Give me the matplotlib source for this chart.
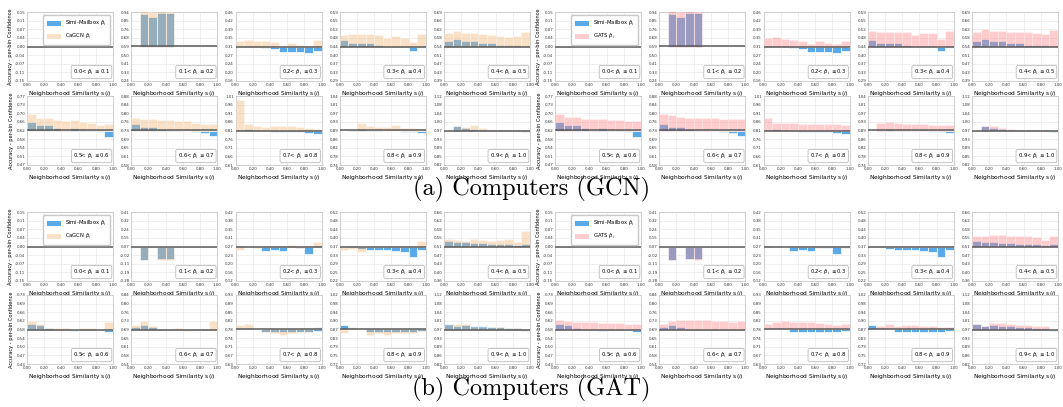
import numpy as np
import matplotlib
matplotlib.use("Agg")
import matplotlib.pyplot as plt
from matplotlib.patches import Patch

nan = np.nan

# ---------------- data ----------------
bin_lo = [0.0, 0.1, 0.2, 0.3, 0.4, 0.5, 0.6, 0.7, 0.8, 0.9]
conf_ranges = ["0.0", "0.1", "0.2", "0.3", "0.4", "0.5", "0.6", "0.7", "0.8", "0.9", "1.0"]
x_ticks = [0.0, 0.2, 0.4, 0.6, 0.8, 1.0]

# (a) Computers (GCN)
a_center = [0.00, 0.59, 0.311, 0.441, 0.543, 0.62, 0.727, 0.81, 0.893, 0.967]
a_half = [0.15, 0.35, 0.15, 0.15, 0.15, 0.15, 0.15, 0.20, 0.15, 0.15]
a_simi = [
    [nan] * 10,
    [nan, 0.333, 0.300, 0.343, 0.340, nan, nan, nan, nan, nan],
    [0.004, 0.004, 0.001, -0.006, -0.009, -0.026, -0.022, -0.025, -0.029, -0.020],
    [0.029, 0.017, 0.016, 0.015, 0.006, -0.004, 0.001, 0.001, -0.020, 0.001],
    [0.026, 0.032, 0.025, 0.022, 0.015, 0.016, 0.005, 0.005, 0.006, 0.001],
    [0.037, 0.024, 0.024, 0.013, 0.002, 0.009, 0.001, 0.001, -0.007, -0.030],
    [0.030, 0.014, 0.014, 0.006, 0.001, 0.001, -0.004, -0.007, -0.010, -0.024],
    [0.002, 0.008, 0.004, 0.001, -0.006, -0.006, -0.008, -0.010, -0.013, -0.021],
    [nan, 0.003, 0.007, 0.003, 0.001, -0.004, -0.004, -0.006, -0.007, -0.013],
    [nan, 0.020, 0.012, 0.007, 0.004, 0.002, 0.001, 0.001, 0.001, -0.005],
]
a_cagcn = [
    [nan] * 10,
    [nan, 0.357, 0.350, 0.357, 0.350, nan, nan, nan, nan, nan],
    [0.025, 0.029, 0.025, 0.025, 0.019, -0.003, 0.017, 0.007, 0.004, 0.029],
    [0.051, 0.054, 0.055, 0.055, 0.052, 0.038, 0.047, 0.038, 0.020, 0.055],
    [0.058, 0.068, 0.060, 0.057, 0.054, 0.048, 0.044, 0.041, 0.045, 0.062],
    [0.070, 0.053, 0.053, 0.047, 0.041, 0.044, 0.036, 0.034, 0.024, 0.027],
    [0.056, 0.051, 0.051, 0.044, 0.044, 0.041, 0.041, 0.033, 0.027, 0.027],
    [0.175, 0.036, 0.025, 0.021, 0.027, 0.025, 0.027, 0.021, 0.017, 0.008],
    [nan, 0.003, 0.034, 0.019, 0.016, 0.017, 0.024, 0.011, 0.009, 0.007],
    [nan, 0.020, 0.017, 0.023, 0.009, 0.004, 0.004, 0.001, 0.001, 0.001],
]
a_gats = [
    [nan] * 10,
    [nan, 0.357, 0.350, 0.357, 0.350, nan, nan, nan, nan, nan],
    [0.036, 0.041, 0.033, 0.028, 0.025, 0.013, 0.023, 0.017, 0.010, 0.023],
    [0.068, 0.064, 0.064, 0.064, 0.064, 0.051, 0.058, 0.058, 0.033, 0.067],
    [0.063, 0.074, 0.068, 0.067, 0.064, 0.063, 0.063, 0.058, 0.054, 0.071],
    [0.070, 0.059, 0.059, 0.050, 0.050, 0.050, 0.047, 0.046, 0.041, 0.041],
    [0.073, 0.066, 0.059, 0.054, 0.054, 0.054, 0.054, 0.050, 0.050, 0.050],
    [0.070, 0.044, 0.042, 0.042, 0.036, 0.036, 0.036, 0.036, 0.035, 0.032],
    [nan, 0.033, 0.036, 0.033, 0.030, 0.027, 0.027, 0.026, 0.023, 0.023],
    [nan, 0.021, 0.019, 0.011, 0.007, 0.004, 0.002, 0.001, 0.001, -0.004],
]

# (b) Computers (GAT)
b_center = [0.00, 0.065, 0.27, 0.367, 0.51, 0.58, 0.69, 0.78, 0.866, 0.97]
b_half = [0.15, 0.345, 0.15, 0.15, 0.15, 0.15, 0.15, 0.15, 0.15, 0.15]
b_simi = [
    [nan] * 10,
    [nan, -0.130, nan, -0.125, -0.125, nan, nan, nan, nan, nan],
    [0.003, -0.004, -0.002, -0.019, -0.015, -0.019, 0.001, -0.007, -0.033, 0.001],
    [-0.004, 0.001, -0.012, -0.017, -0.016, -0.015, -0.019, -0.024, -0.046, -0.016],
    [0.022, 0.019, 0.019, 0.015, 0.014, 0.012, 0.011, 0.009, 0.006, 0.013],
    [0.024, 0.019, 0.006, 0.002, 0.002, -0.005, 0.001, 0.001, -0.004, -0.010],
    [0.009, 0.021, 0.009, 0.001, 0.001, -0.003, 0.001, 0.001, 0.001, 0.001],
    [0.005, 0.005, 0.001, -0.012, -0.013, -0.011, -0.011, -0.010, -0.010, -0.007],
    [0.021, 0.005, 0.001, -0.011, -0.011, -0.013, -0.011, -0.011, -0.011, -0.006],
    [0.025, 0.016, 0.021, 0.017, 0.014, 0.011, 0.009, 0.008, 0.006, -0.007],
]
b_cagcn = [
    [nan] * 10,
    [nan, -0.135, nan, -0.134, -0.130, nan, nan, nan, nan, nan],
    [-0.015, -0.004, -0.007, 0.001, 0.001, 0.004, 0.006, -0.007, 0.001, 0.019],
    [-0.017, -0.010, -0.025, 0.001, 0.001, 0.001, 0.001, 0.001, 0.001, 0.026],
    [0.033, 0.028, 0.025, 0.031, 0.030, 0.022, 0.030, 0.032, 0.020, 0.066],
    [0.036, 0.025, 0.006, 0.008, 0.008, -0.003, 0.005, 0.006, -0.003, 0.032],
    [0.021, 0.035, 0.016, 0.001, 0.001, 0.008, -0.008, 0.001, 0.003, 0.035],
    [0.021, 0.025, 0.001, -0.011, -0.014, -0.024, -0.014, -0.011, -0.011, 0.013],
    [-0.014, 0.009, 0.001, -0.022, -0.017, -0.022, -0.014, -0.014, -0.014, -0.006],
    [0.019, 0.022, 0.022, 0.013, 0.013, 0.010, 0.010, 0.007, 0.007, 0.004],
]
b_gats = [
    [nan] * 10,
    [nan, -0.137, nan, -0.125, -0.137, nan, nan, nan, nan, nan],
    [0.003, -0.002, -0.002, 0.001, 0.001, 0.001, -0.006, 0.001, 0.001, -0.007],
    [0.001, 0.004, 0.003, 0.001, 0.001, 0.001, 0.001, 0.001, 0.001, 0.001],
    [0.045, 0.044, 0.050, 0.049, 0.046, 0.044, 0.044, 0.040, 0.029, 0.047],
    [0.040, 0.035, 0.033, 0.033, 0.033, 0.030, 0.028, 0.028, 0.024, 0.025],
    [0.022, 0.038, 0.040, 0.042, 0.042, 0.040, 0.036, 0.035, 0.033, 0.036],
    [0.024, 0.032, 0.035, 0.034, 0.034, 0.032, 0.028, 0.025, 0.019, 0.024],
    [0.001, 0.014, 0.022, 0.017, 0.019, 0.019, 0.017, 0.014, 0.013, 0.011],
    [0.022, 0.014, 0.028, 0.028, 0.022, 0.021, 0.018, 0.016, 0.014, -0.004],
]

captions = ["(a) Computers (GCN)", "(b) Computers (GAT)"]
baseline_names = ["CaGCN", "GATS"]

# ---------------- style ----------------
BLUE = "#5aaaea"
PEACH = "#f2b475"
PINK = "#ff8282"
ALPHA = 0.4
W, H = 1063, 407

fig = plt.figure(figsize=(W / 100, H / 100), dpi=100)

group_left = [27, 555]
col_pitch = 104.25
ax_w = 86
ax_h = 69
row_tops = [[12, 96], [212, 295]]


def draw_panel(ax, k, center, half, simi, other, other_color, other_name, first_col, legend):
    x = np.array(bin_lo)
    s = np.array(simi, dtype=float)
    o = np.array(other, dtype=float)
    ms = np.isfinite(s)
    mo = np.isfinite(o)
    ax.set_axisbelow(True)
    ax.bar(x[ms], s[ms], width=0.1, bottom=center, align="edge", color=BLUE,
           edgecolor="white", linewidth=0.5, zorder=2)
    ax.bar(x[mo], o[mo], width=0.1, bottom=center, align="edge", color=other_color,
           alpha=ALPHA, edgecolor="white", linewidth=0.5, zorder=3)
    ax.axhline(center, color="#5a5a5a", lw=1.1, zorder=4)
    ax.set_xlim(0, 1)
    ax.set_ylim(center - half, center + half)
    ax.set_yticks(np.linspace(center - half, center + half, 9))
    ax.set_xticks(x_ticks)
    ax.yaxis.set_major_formatter(matplotlib.ticker.FormatStrFormatter("%.2f"))
    ax.xaxis.set_major_formatter(matplotlib.ticker.FormatStrFormatter("%.2f"))
    ax.tick_params(axis="both", length=0, labelsize=2.9, pad=1.2, colors="#333333")
    ax.grid(True, color="#e6e6e6", lw=0.45)
    for sp in ax.spines.values():
        sp.set_color("#c8c8c8")
        sp.set_linewidth(0.6)
    ax.set_xlabel(r"Neighborhood Similarity s$(i)$", fontsize=4.2, labelpad=1.5)
    if first_col:
        ax.set_ylabel("Accuracy - per-bin Confidence", fontsize=3.7, labelpad=1.5)
    ax.text(0.965, 0.06, conf_ranges[k] + r"< $\hat{p}_i$ $\leq$" + conf_ranges[k + 1],
            transform=ax.transAxes, ha="right", va="bottom", fontsize=3.8, zorder=6,
            bbox=dict(boxstyle="round,pad=0.35", fc="white", ec="#b0b0b0", lw=0.5))
    if legend:
        handles = [Patch(facecolor=BLUE, edgecolor="none"),
                   Patch(facecolor=other_color, alpha=ALPHA, edgecolor="none")]
        ax.legend(handles, [r"Simi-Mailbox $\hat{p}_i$", other_name + r" $\hat{p}_i$"],
                  loc="upper right", fontsize=3.8, frameon=True, handlelength=2.6,
                  handleheight=1.0, borderpad=0.7, labelspacing=0.7, edgecolor="#c8c8c8",
                  fancybox=True, framealpha=1.0)


blocks = [
    (a_center, a_half, a_simi, [a_cagcn, a_gats]),
    (b_center, b_half, b_simi, [b_cagcn, b_gats]),
]
colors = [PEACH, PINK]

for bi, (centers, halves, simi, others) in enumerate(blocks):
    for g in range(2):
        for k in range(10):
            r, c = divmod(k, 5)
            left = group_left[g] + c * col_pitch
            top = row_tops[bi][r]
            ax = fig.add_axes([left / W, 1 - (top + ax_h) / H, ax_w / W, ax_h / H])
            draw_panel(ax, k, centers[k], halves[k], simi[k], others[g][k], colors[g],
                       baseline_names[g], first_col=(c == 0), legend=(k == 0))

fig.text(0.5, 1 - 189 / H, captions[0], ha="center", va="center", fontsize=17.5, family="cmr10")
fig.text(0.5, 1 - 389 / H, captions[1], ha="center", va="center", fontsize=17.5, family="cmr10")

fig.savefig("out.png", dpi=100)
